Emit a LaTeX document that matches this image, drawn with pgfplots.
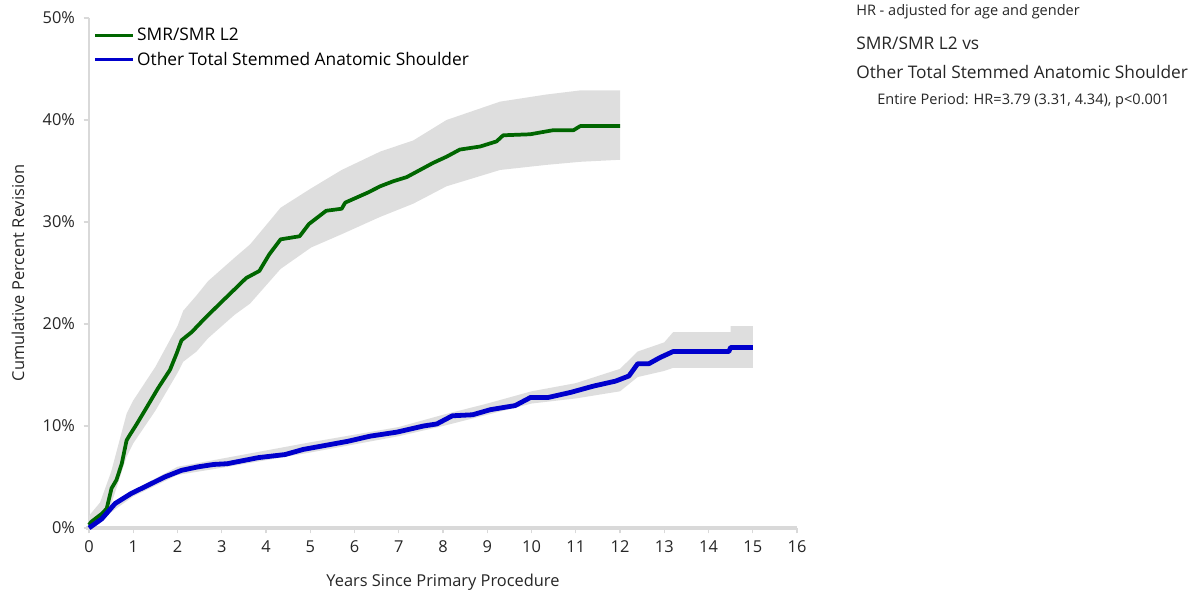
\documentclass[border=0pt]{standalone}
\usepackage{pgfplots}
\pgfplotsset{compat=1.18}
\usepackage{fontspec}
\setmainfont{Open Sans}
\definecolor{kmgreen}{HTML}{006600}
\definecolor{kmblue}{HTML}{0000CC}
\definecolor{band}{HTML}{DEDEDE}
\definecolor{axgray}{HTML}{D9D9D9}
\begin{document}
\begin{tikzpicture}
\path[use as bounding box] (-66.75pt,-47.25pt) rectangle (828pt,396pt);
\begin{axis}[
  at={(0,0)}, anchor=origin,
  scale only axis, width=531pt, height=382.5pt,
  xmin=0, xmax=16, ymin=0, ymax=50,
  axis x line=bottom, axis y line=left,
  x axis line style={-, draw=axgray, line width=2.6pt, shorten <=-2pt},
  y axis line style={-, draw=axgray, line width=1.4pt},
  xtick={0,1,...,16}, ytick={0,10,...,50},
  tick align=outside, major tick length=4pt,
  tick style={draw=axgray, line width=0.8pt},
  /pgf/number format/assume math mode=true,
  yticklabel={\pgfmathprintnumber{\tick}\%},
  tick label style={font=\fontsize{12.3}{14}\selectfont, text=black!85},
  xticklabel style={yshift=-2pt},
  yticklabel style={xshift=-3pt},
  xlabel={Years Since Primary Procedure},
  ylabel={Cumulative Percent Revision},
  label style={font=\fontsize{12.3}{14}\selectfont, text=black!85},
  xlabel style={at={(axis description cs:0.5,0)}, anchor=center, yshift=-40.5pt},
  ylabel style={at={(axis description cs:-0.1003,0.5)}, anchor=center},
  clip=false,
  legend style={at={(axis cs:0.1,49.3)}, anchor=north west, draw=none, fill=none,
    font=\fontsize{13}{15}\selectfont, row sep=3pt, inner sep=0pt},
  legend cell align=left,
  legend image code/.code={\draw[#1, line width=2.6pt] (0pt,0pt) -- (28pt,0pt);},
]
% green band
\addplot[fill=band, draw=none, forget plot] coordinates {
(0,1.2) (0.25,2.5) (0.5,5.5) (0.85,11.2) (1.0,12.5) (1.5,15.8) (2.0,19.8) (2.13,21.3)
(2.43,22.8) (2.69,24.2) (3.29,26.5) (3.64,27.8) (4.33,31.4) (5.02,33.3) (5.71,35.1)
(6.58,36.9) (7.33,38.0) (8.08,40.0) (9.29,41.8) (10.34,42.5) (11.1,42.9) (12.0,42.9)
(12.0,36.1) (11.1,35.9) (10.34,35.6) (9.29,35.1) (8.08,33.5) (7.33,31.8) (6.58,30.5)
(5.71,28.8) (5.02,27.5) (4.33,25.4) (3.64,22.0) (3.29,20.9) (2.69,18.6) (2.43,17.3)
(2.13,16.3) (2.0,15.2) (1.5,11.5) (1.0,8.3) (0.85,7.0) (0.5,2.3) (0.25,0.5) (0,0)
} -- cycle;
% blue band
\addplot[fill=band, draw=none, forget plot] coordinates {
(0,0.2) (1,3.7) (2,6.0) (3,6.8) (5,8.4) (7,9.9) (8,11.1) (9,12.2) (10,13.4) (11,14.2)
(12,15.6) (12.4,17.3) (13,18.2) (13.2,19.2) (14.5,19.2) (14.5,19.8) (15,19.8)
(15,15.7) (14.5,15.7) (13.2,15.7) (13,15.4) (12.4,14.8) (12,13.4) (11,12.7) (10,12.2)
(9,11.1) (8,10.0) (7,9.0) (5,7.4) (3,5.9) (2,5.2) (1,3.1) (0,0)
} -- cycle;
\addplot[kmgreen, line width=2.8pt, line join=round] coordinates {
(0,0.3) (0.05,0.6) (0.14,0.9) (0.29,1.4) (0.40,1.9) (0.51,3.9) (0.62,4.7) (0.74,6.3)
(0.85,8.6) (0.92,9.1) (1.08,10.2) (1.26,11.5) (1.56,13.7) (1.83,15.5) (1.98,17.1)
(2.09,18.4) (2.32,19.2) (2.54,20.2) (2.84,21.5) (3.10,22.6) (3.29,23.4) (3.55,24.5)
(3.85,25.2) (4.07,26.8) (4.33,28.3) (4.76,28.6) (4.97,29.8) (5.36,31.1) (5.71,31.3)
(5.79,31.9) (6.31,32.9) (6.58,33.5) (6.88,34.0) (7.18,34.4) (7.48,35.1) (7.78,35.8)
(8.08,36.4) (8.38,37.1) (8.84,37.4) (9.21,37.9) (9.36,38.5) (9.97,38.6) (10.49,39.0)
(10.95,39.0) (11.1,39.4) (12.0,39.4)
};
\addlegendentry{SMR/SMR L2}
\addplot[kmblue, line width=3.6pt, line join=round] coordinates {
(0,0) (0.29,0.9) (0.59,2.4) (0.96,3.4) (1.34,4.2) (1.71,5.0) (2.09,5.65) (2.47,6.0)
(2.82,6.23) (3.12,6.3) (3.83,6.9) (4.43,7.2) (4.84,7.7) (5.85,8.5) (6.35,9.0) (6.96,9.4)
(7.56,10.0) (7.86,10.2) (8.21,11.0) (8.67,11.1) (9.07,11.6) (9.63,12.0) (9.98,12.8)
(10.38,12.8) (10.89,13.3) (11.39,13.9) (11.9,14.4) (12.2,14.9) (12.4,16.1) (12.65,16.1)
(12.9,16.7) (13.2,17.3) (14.46,17.3) (14.5,17.7) (15.0,17.7)
};
\addlegendentry{Other Total Stemmed Anatomic Shoulder}
\end{axis}
\node[anchor=west, font=\fontsize{10.9}{13}\selectfont, text=black!85, inner sep=0pt] at (575.25pt,387pt) {HR - adjusted for age and gender};
\node[anchor=west, font=\fontsize{13}{15}\selectfont, text=black!85, inner sep=0pt] at (575.25pt,363.75pt) {SMR/SMR L2 vs};
\node[anchor=west, font=\fontsize{13}{15}\selectfont, text=black!85, inner sep=0pt] at (575.25pt,342pt) {Other Total Stemmed Anatomic Shoulder};
\node[anchor=west, font=\fontsize{10.9}{13}\selectfont, text=black!85, inner sep=0pt] at (591pt,320.25pt) {Entire Period: HR=3.79 (3.31, 4.34), p<0.001};
\end{tikzpicture}
\end{document}
